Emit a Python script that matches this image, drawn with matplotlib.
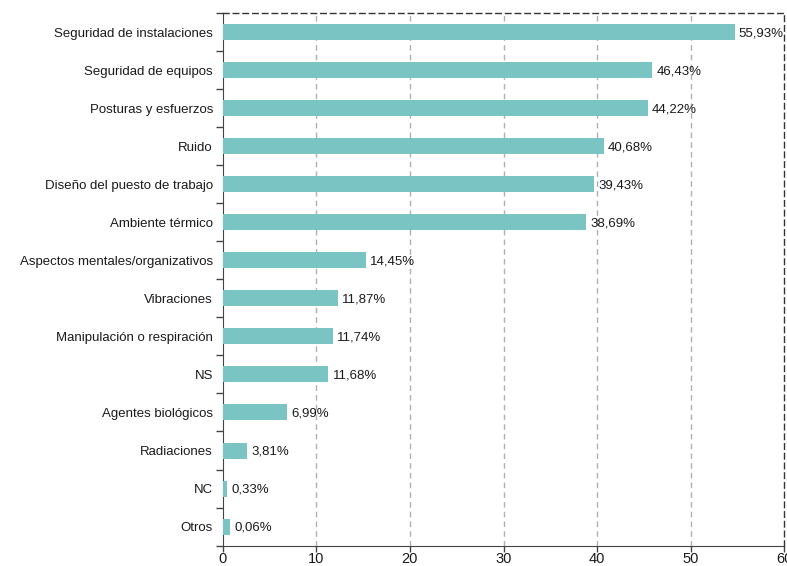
import numpy as np
import matplotlib
matplotlib.use("Agg")
import matplotlib.pyplot as plt

# categories top to bottom
categorias = ["Seguridad de instalaciones", "Seguridad de equipos", "Posturas y esfuerzos",
              "Ruido", "Diseño del puesto de trabajo", "Ambiente térmico",
              "Aspectos mentales/organizativos", "Vibraciones", "Manipulación o respiración",
              "NS", "Agentes biológicos", "Radiaciones", "NC", "Otros"]
# bar lengths as drawn in the picture
valores = [54.7, 45.9, 45.4, 40.7, 39.7, 38.8, 15.3, 12.3, 11.8, 11.3, 6.9, 2.6, 0.5, 0.8]
etiquetas = ["55,93%", "46,43%", "44,22%", "40,68%", "39,43%", "38,69%", "14,45%",
             "11,87%", "11,74%", "11,68%", "6,99%", "3,81%", "0,33%", "0,06%"]
xticks = [0, 10, 20, 30, 40, 50, 60]

plt.rcParams['font.family'] = ['Liberation Sans', 'DejaVu Sans']
txt = '#1a1a1a'

fig = plt.figure(figsize=(7.87, 5.66), dpi=100)
ax = fig.add_axes([0.283, 0.036, 0.7136, 0.941])

y = np.arange(len(categorias))
ax.barh(y, valores, height=0.42, color='#7ac4c4', zorder=3)
for yi, v, t in zip(y, valores, etiquetas):
    ax.annotate(t, (v, yi), xytext=(3, -1), textcoords='offset points',
                va='center', ha='left', fontsize=9.5, color=txt, zorder=4)

ax.set_xlim(0, 60)
ax.set_ylim(len(categorias) - 0.5, -0.5)
ax.set_xticks(xticks)
ax.set_xticklabels([str(t) for t in xticks], fontsize=10.5, color=txt)

# category labels without tick marks, tick marks between bars
ax.set_yticks(y)
ax.set_yticklabels(categorias, fontsize=9.5, color=txt)
ax.tick_params(axis='y', length=0, pad=7)
ax.set_yticks(np.arange(-0.5, len(categorias), 1), minor=True)
ax.tick_params(axis='y', which='minor', length=5, color='#444444', width=1)
ax.tick_params(axis='x', length=4, color='#444444', width=1, pad=0.5)

for xv in xticks[1:-1]:
    ax.axvline(xv, color='#b0b0b0', lw=1, ls=(0, (4, 3)), zorder=1)

ax.spines['left'].set_color('#444444')
ax.spines['bottom'].set_color('#444444')
for s in ['top', 'right']:
    ax.spines[s].set_linestyle((0, (4, 3)))
    ax.spines[s].set_color('#333333')
    ax.spines[s].set_linewidth(1)

fig.savefig("out.png", dpi=100)
